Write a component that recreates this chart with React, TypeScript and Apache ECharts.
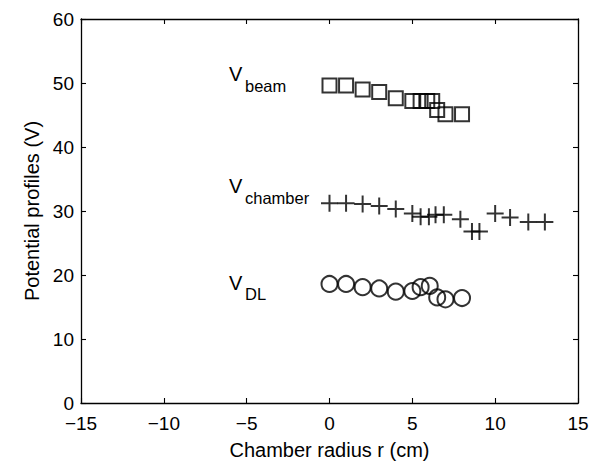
import React, { useEffect, useRef } from "react";
import * as echarts from "echarts";

const beamR = [0, 1, 2, 3, 4, 5, 5.5, 5.9, 6.2, 6.5, 7, 8];
const beamV = [49.6, 49.6, 49.0, 48.6, 47.6, 47.2, 47.2, 47.2, 47.2, 45.8, 45.1, 45.1];

const chamberR = [0, 1, 2, 3, 4, 5, 5.5, 6, 6.4, 6.9, 7.9, 8.6, 9.05, 10, 10.9, 12, 13];
const chamberV = [31.2, 31.2, 31.1, 30.8, 30.3, 29.6, 29.1, 29.1, 29.4, 29.4, 28.7, 26.8, 26.8, 29.6, 29.0, 28.3, 28.3];

const dlR = [0, 1, 2, 3, 4, 5, 5.5, 6.05, 6.5, 7, 8];
const dlV = [18.6, 18.6, 18.1, 17.9, 17.4, 17.5, 18.1, 18.3, 16.5, 16.2, 16.4];

const xTicks = [-15, -10, -5, 0, 5, 10, 15];
const yTicks = [0, 10, 20, 30, 40, 50, 60];

const FONT = "'Liberation Sans', Arial, Helvetica, sans-serif";

const zip = (xs: number[], ys: number[]) => xs.map((x, i) => [x, ys[i]]);

export default function App() {
  const ref = useRef<HTMLDivElement>(null);
  useEffect(() => {
    if (!ref.current) return;
    const chart = echarts.init(ref.current, undefined, { renderer: "svg" });
    const axisCommon = {
      type: "value" as const,
      axisLine: { show: true, onZero: false, lineStyle: { color: "#000", width: 1.3 } },
      axisTick: { show: true, inside: true, length: 5, lineStyle: { color: "#000", width: 1.1 } },
      splitLine: { show: false },
    };
    const labelCommon = {
      color: "#000",
      fontSize: 19,
      fontFamily: FONT,
      formatter: (v: number) => String(v).replace("-", "\u2212"),
    };
    const markerStyle = { color: "transparent", borderColor: "#000", borderWidth: 2 };
    const text = (t: string, x: number, y: number, size: number) => ({
      type: "text",
      x,
      y,
      style: { text: t, fontSize: size, fontFamily: FONT, fill: "#000", textVerticalAlign: "middle" },
    });
    chart.setOption({
      animation: false,
      grid: { left: 81, right: 22, top: 19, bottom: 63, containLabel: false },
      xAxis: [
        {
          ...axisCommon,
          position: "bottom",
          min: xTicks[0],
          max: xTicks[xTicks.length - 1],
          interval: 5,
          axisLabel: { ...labelCommon, margin: 11 },
          name: "Chamber radius r (cm)",
          nameLocation: "middle",
          nameGap: 37,
          nameTextStyle: { color: "#000", fontSize: 20, fontFamily: FONT },
        },
        {
          ...axisCommon,
          position: "top",
          min: xTicks[0],
          max: xTicks[xTicks.length - 1],
          interval: 5,
          axisLabel: { show: false },
        },
      ],
      yAxis: [
        {
          ...axisCommon,
          position: "left",
          min: yTicks[0],
          max: yTicks[yTicks.length - 1],
          interval: 10,
          axisLabel: { ...labelCommon, margin: 7 },
          name: "Potential profiles (V)",
          nameLocation: "middle",
          nameGap: 38,
          nameTextStyle: { color: "#000", fontSize: 20, fontFamily: FONT },
        },
        {
          ...axisCommon,
          position: "right",
          min: yTicks[0],
          max: yTicks[yTicks.length - 1],
          interval: 10,
          axisLabel: { show: false },
        },
      ],
      series: [
        {
          type: "scatter",
          name: "beam",
          data: zip(beamR, beamV),
          symbol: "rect",
          symbolSize: 14,
          itemStyle: markerStyle,
        },
        {
          type: "scatter",
          name: "chamber",
          data: zip(chamberR, chamberV),
          symbol: "path://M8,0 L8,16 M0,8 L16,8",
          symbolSize: 17,
          itemStyle: markerStyle,
        },
        {
          type: "scatter",
          name: "DL",
          data: zip(dlR, dlV),
          symbol: "circle",
          symbolSize: 16,
          itemStyle: markerStyle,
        },
      ],
      graphic: [
        text("V", 229, 74, 20),
        text("beam", 245, 86, 16.5),
        text("V", 229, 186, 20),
        text("chamber", 245, 198, 16.5),
        text("V", 229, 283, 20),
        text("DL", 245, 294, 16.5),
      ],
    });
    return () => chart.dispose();
  }, []);
  return (
    <div
      ref={ref}
      style={{ position: "absolute", left: 0, top: 0, width: 600, height: 466, background: "#fff" }}
    />
  );
}
